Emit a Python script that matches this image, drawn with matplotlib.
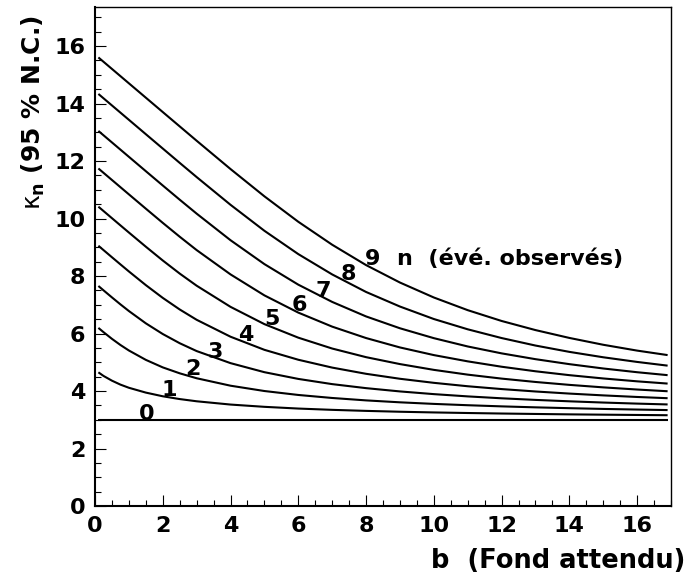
import matplotlib
matplotlib.use("Agg")
import matplotlib.pyplot as plt
from matplotlib.ticker import MultipleLocator

plt.rcParams['font.family'] = ['DejaVu Sans']
plt.rcParams['mathtext.fontset'] = 'dejavusans'

# expected background b
b = [0.1, 0.25, 0.5, 0.75, 1, 1.5, 2, 2.5, 3, 4, 5, 6, 7, 8, 9, 10, 11, 12, 13, 14, 15, 16, 16.9]

# kappa_n (95 % C.L.) for n observed events
k0 = [3.0] * 23
k1 = [4.650, 4.526, 4.360, 4.223, 4.113, 3.945, 3.817, 3.720, 3.643, 3.529, 3.450, 3.390,
      3.345, 3.309, 3.279, 3.255, 3.235, 3.217, 3.202, 3.188, 3.177, 3.167, 3.158]
k2 = [6.196, 6.049, 5.815, 5.602, 5.410, 5.084, 4.822, 4.616, 4.444, 4.185, 4.000, 3.863,
      3.758, 3.674, 3.607, 3.552, 3.506, 3.466, 3.432, 3.403, 3.377, 3.355, 3.337]
k3 = [7.654, 7.504, 7.257, 7.015, 6.783, 6.355, 5.983, 5.663, 5.390, 4.970, 4.655, 4.421,
      4.240, 4.100, 3.986, 3.892, 3.813, 3.747, 3.691, 3.642, 3.599, 3.562, 3.533]
k4 = [9.054, 8.904, 8.654, 8.406, 8.160, 7.684, 7.240, 6.837, 6.478, 5.889, 5.433, 5.088,
      4.815, 4.599, 4.426, 4.285, 4.166, 4.068, 3.984, 3.911, 3.848, 3.793, 3.750]
k5 = [10.413, 10.263, 10.013, 9.763, 9.514, 9.021, 8.541, 8.086, 7.664, 6.928, 6.327, 5.856,
      5.478, 5.178, 4.937, 4.736, 4.570, 4.432, 4.315, 4.214, 4.127, 4.052, 3.992]
k6 = [11.742, 11.592, 11.342, 11.092, 10.842, 10.344, 9.850, 9.368, 8.903, 8.057, 7.327, 6.728,
      6.240, 5.843, 5.516, 5.250, 5.032, 4.845, 4.687, 4.552, 4.437, 4.337, 4.259]
k7 = [13.048, 12.898, 12.648, 12.398, 12.148, 11.648, 11.150, 10.656, 10.171, 9.246, 8.415, 7.700,
      7.100, 6.595, 6.183, 5.839, 5.550, 5.310, 5.108, 4.935, 4.784, 4.654, 4.552]
k8 = [14.335, 14.185, 13.935, 13.685, 13.435, 12.935, 12.436, 11.937, 11.443, 10.478, 9.574, 8.763,
      8.056, 7.446, 6.939, 6.505, 6.147, 5.843, 5.582, 5.362, 5.174, 5.012, 4.883]
k9 = [15.605, 15.455, 15.205, 14.955, 14.705, 14.205, 13.705, 13.206, 12.707, 11.722, 10.773, 9.888,
      9.089, 8.381, 7.774, 7.254, 6.813, 6.437, 6.120, 5.847, 5.609, 5.406, 5.250]
curves = [k0, k1, k2, k3, k4, k5, k6, k7, k8, k9]

# curve labels (n) and their positions
label_text = ['0', '1', '2', '3', '4', '5', '6', '7', '8', '9']
label_b = [1.53, 2.18, 2.90, 3.54, 4.46, 5.21, 6.02, 6.74, 7.49, 8.19]
label_y = [2.99, 3.83, 4.56, 5.15, 5.74, 6.30, 6.78, 7.27, 7.86, 8.38]
legend_text = 'n  (évé. observés)'
legend_pos = (8.90, 8.38)

x_ticks = [0, 2, 4, 6, 8, 10, 12, 14, 16]
y_ticks = [0, 2, 4, 6, 8, 10, 12, 14, 16]

fig = plt.figure(figsize=(6.86, 5.85), dpi=100)
ax = fig.add_axes([95 / 686, 79 / 585, 576 / 686, 499.3 / 585])

for k in curves:
    ax.plot(b, k, color='black', lw=1.5, solid_capstyle='butt', solid_joinstyle='round')

ax.set_xlim(0, 17)
ax.set_ylim(0, 17.37)
ax.set_xticks(x_ticks)
ax.set_yticks(y_ticks)
ax.xaxis.set_minor_locator(MultipleLocator(0.5))
ax.yaxis.set_minor_locator(MultipleLocator(0.5))
ax.tick_params(which='both', direction='in', top=False, right=False, color='black')
ax.tick_params(which='major', length=8, width=0.8, labelsize=16, pad=7)
ax.tick_params(which='minor', length=4.3, width=0.8)
for lab in ax.get_xticklabels() + ax.get_yticklabels():
    lab.set_fontweight('bold')

ax.spines['left'].set_linewidth(1.5)
ax.spines['bottom'].set_linewidth(1.5)
ax.spines['top'].set_linewidth(1.0)
ax.spines['right'].set_linewidth(1.0)

for t, xb, yv in zip(label_text, label_b, label_y):
    ax.text(xb, yv, t, ha='center', va='baseline', fontsize=16, fontweight='bold')
ax.text(legend_pos[0], legend_pos[1], legend_text, ha='left', va='baseline',
        fontsize=16, fontweight='bold')

fig.text(685 / 686, (585 - 568) / 585, 'b  (Fond attendu)', ha='right', va='baseline',
         fontsize=18.5, fontweight='bold')
fig.text(33 / 686, 1 - 15 / 585, r'$\mathrm{\kappa}_{\mathbf{n}}$ (95 % N.C.)', rotation=90,
         ha='center', va='top', fontsize=18, fontweight='bold')

fig.savefig('out.png', dpi=100)
